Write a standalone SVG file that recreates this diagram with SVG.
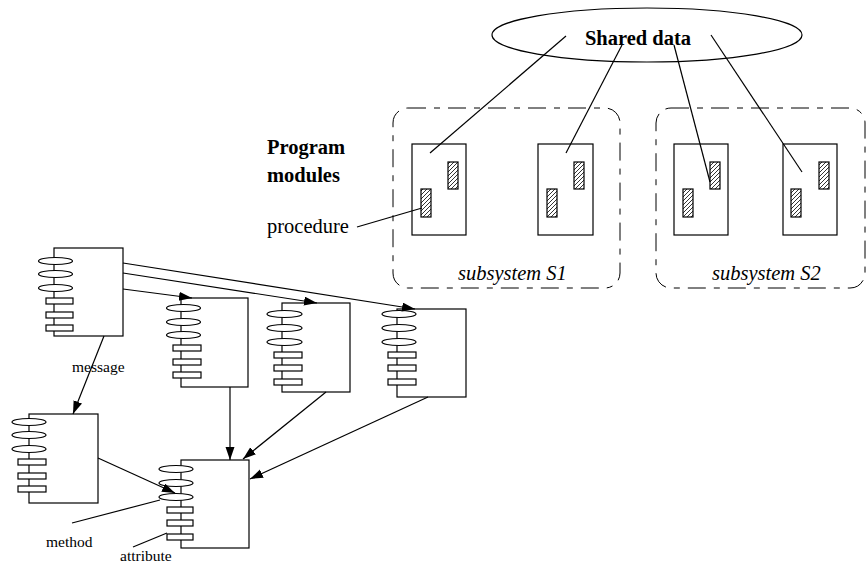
<svg xmlns="http://www.w3.org/2000/svg" width="866" height="563" viewBox="0 0 866 563">
  <style>
    .ln { fill: none; stroke: #000; stroke-width: 1.2; }
    .box { fill: #fff; stroke: #000; stroke-width: 1.2; }
    .sub { fill: none; stroke: #000; stroke-width: 1; stroke-dasharray: 18 8 6 8; }
    .hatch { fill: url(#hatch); stroke: #000; stroke-width: 1.2; }
    .port { fill: #fff; stroke: #000; stroke-width: 1.2; }
    .t { font-family: "Liberation Serif", "Times New Roman", serif; fill: #000; }
    .big { font-size: 20.5px; }
    .small { font-size: 15.5px; }
    .b { font-weight: bold; }
    .i { font-style: italic; }
    .arr { fill: none; stroke: #000; stroke-width: 1.2; marker-end: url(#head); }
  </style>
  <defs>
    <pattern id="hatch" patternUnits="userSpaceOnUse" width="4" height="4">
      <path d="M-1,1 l2,-2 M0,4 l4,-4 M3,5 l2,-2" stroke="#000" stroke-width="0.8"/>
    </pattern>
    <marker id="head" markerUnits="userSpaceOnUse" markerWidth="14" markerHeight="10" refX="13" refY="4.5" orient="auto">
      <path d="M0,0 L13,4.5 L0,9 z" fill="#000"/>
    </marker>
  </defs>

  <rect width="866" height="563" fill="#fff"/>

  <!-- shared data store -->
  <g id="shared-data">
    <ellipse cx="647" cy="35" rx="155" ry="27" class="box"/>
    <text x="638" y="45" text-anchor="middle" class="t big b">Shared data</text>
  </g>

  <!-- subsystem outlines -->
  <g id="subsystem-s1">
    <rect x="393" y="108" width="227" height="180" rx="15" ry="15" class="sub"/>
    <text x="458" y="280" class="t big i">subsystem S1</text>
  </g>
  <g id="subsystem-s2">
    <rect x="656" y="108" width="209" height="180" rx="15" ry="15" class="sub"/>
    <text x="712" y="280" class="t big i">subsystem S2</text>
  </g>

  <!-- program modules with procedures -->
  <g id="module-1">
    <rect x="412" y="144" width="54" height="91" class="box"/>
    <rect x="448" y="162" width="10" height="27" class="hatch"/>
    <rect x="421" y="189" width="10" height="28" class="hatch"/>
  </g>
  <g id="module-2">
    <rect x="538" y="144" width="55" height="91" class="box"/>
    <rect x="574" y="162" width="10" height="27" class="hatch"/>
    <rect x="547" y="189" width="10" height="28" class="hatch"/>
  </g>
  <g id="module-3">
    <rect x="674" y="144" width="54" height="91" class="box"/>
    <rect x="710" y="162" width="10" height="27" class="hatch"/>
    <rect x="683" y="189" width="10" height="28" class="hatch"/>
  </g>
  <g id="module-4">
    <rect x="783" y="144" width="54" height="91" class="box"/>
    <rect x="819" y="162" width="10" height="27" class="hatch"/>
    <rect x="791" y="189" width="10" height="28" class="hatch"/>
  </g>

  <g id="labels">
    <text x="267" y="154" class="t big b">Program</text>
    <text x="267" y="182" class="t big b">modules</text>
    <text x="267" y="233" class="t big">procedure</text>
    <text x="72" y="372" class="t small">message</text>
    <text x="201" y="499" class="t small">object</text>
    <text x="46" y="547" class="t small">method</text>
    <text x="120" y="561" class="t small">attribute</text>
  </g>

  <!-- objects: box with methods (ellipses) and attributes (bars) on the left edge -->
  <g id="object-a">
    <rect x="54" y="248" width="69" height="88" class="box"/>
    <ellipse cx="55.5" cy="261" rx="17" ry="3.5" class="port"/>
    <ellipse cx="55.5" cy="274" rx="17" ry="3.5" class="port"/>
    <ellipse cx="55.5" cy="288" rx="17" ry="3.5" class="port"/>
    <rect x="46" y="298" width="27" height="6" class="port"/>
    <rect x="46" y="312" width="27" height="6" class="port"/>
    <rect x="46" y="325" width="27" height="6" class="port"/>
  </g>
  <g id="object-b">
    <rect x="181" y="298" width="67" height="89" class="box"/>
    <ellipse cx="183.5" cy="308" rx="17" ry="3.5" class="port"/>
    <ellipse cx="183.5" cy="322" rx="17" ry="3.5" class="port"/>
    <ellipse cx="183.5" cy="335" rx="17" ry="3.5" class="port"/>
    <rect x="173" y="345" width="28" height="6" class="port"/>
    <rect x="173" y="359" width="28" height="6" class="port"/>
    <rect x="173" y="372" width="28" height="6" class="port"/>
  </g>
  <g id="object-c">
    <rect x="282" y="303" width="68" height="89" class="box"/>
    <ellipse cx="284.5" cy="314" rx="17.5" ry="3.5" class="port"/>
    <ellipse cx="284.5" cy="328" rx="17.5" ry="3.5" class="port"/>
    <ellipse cx="284.5" cy="342" rx="17.5" ry="3.5" class="port"/>
    <rect x="274" y="352" width="28" height="6" class="port"/>
    <rect x="274" y="365" width="28" height="6" class="port"/>
    <rect x="274" y="379" width="28" height="6" class="port"/>
  </g>
  <g id="object-d">
    <rect x="397" y="309" width="69" height="88" class="box"/>
    <ellipse cx="399" cy="314" rx="17" ry="3.5" class="port"/>
    <ellipse cx="399" cy="328" rx="17" ry="3.5" class="port"/>
    <ellipse cx="399" cy="342" rx="17" ry="3.5" class="port"/>
    <rect x="388" y="352" width="28" height="6" class="port"/>
    <rect x="388" y="365" width="28" height="6" class="port"/>
    <rect x="388" y="379" width="28" height="6" class="port"/>
  </g>
  <g id="object-e">
    <rect x="29" y="414" width="69" height="89" class="box"/>
    <ellipse cx="29" cy="422" rx="17" ry="3.5" class="port"/>
    <ellipse cx="29" cy="435" rx="17" ry="3.5" class="port"/>
    <ellipse cx="29" cy="449" rx="17" ry="3.5" class="port"/>
    <rect x="18" y="459" width="28" height="6" class="port"/>
    <rect x="18" y="473" width="28" height="6" class="port"/>
    <rect x="18" y="486" width="28" height="6" class="port"/>
  </g>
  <g id="object-f">
    <rect x="181" y="460" width="68" height="88" class="box"/>
    <ellipse cx="176" cy="469" rx="17" ry="3.5" class="port"/>
    <ellipse cx="176" cy="483" rx="17" ry="3.5" class="port"/>
    <ellipse cx="176" cy="497" rx="17" ry="3.5" class="port"/>
    <rect x="167" y="507" width="26" height="6" class="port"/>
    <rect x="167" y="520" width="26" height="6" class="port"/>
    <rect x="167" y="534" width="26" height="6" class="port"/>
  </g>

  <g id="connectors">
    <!-- shared data access -->
    <line x1="566" y1="36" x2="430" y2="153" class="ln"/>
    <line x1="622" y1="45" x2="566" y2="153" class="ln"/>
    <line x1="674" y1="45" x2="710" y2="182" class="ln"/>
    <line x1="711" y1="35" x2="802" y2="172" class="ln"/>
    <!-- annotation leaders -->
    <line x1="357" y1="227" x2="422" y2="208" class="ln"/>
    <line x1="72" y1="523" x2="160" y2="500" class="ln"/>
    <line x1="133" y1="547" x2="167" y2="533" class="ln"/>
    <!-- messages -->
    <line x1="123" y1="289" x2="192" y2="298" class="arr"/>
    <line x1="123" y1="273" x2="317" y2="303" class="arr"/>
    <line x1="123" y1="263" x2="415" y2="309" class="arr"/>
    <line x1="104" y1="336" x2="73" y2="414" class="arr"/>
    <line x1="230" y1="387" x2="230" y2="460" class="arr"/>
    <line x1="326" y1="392" x2="243" y2="459" class="arr"/>
    <line x1="428" y1="397" x2="250" y2="479" class="arr"/>
    <line x1="98" y1="458" x2="175" y2="493" class="arr"/>
  </g>
</svg>
